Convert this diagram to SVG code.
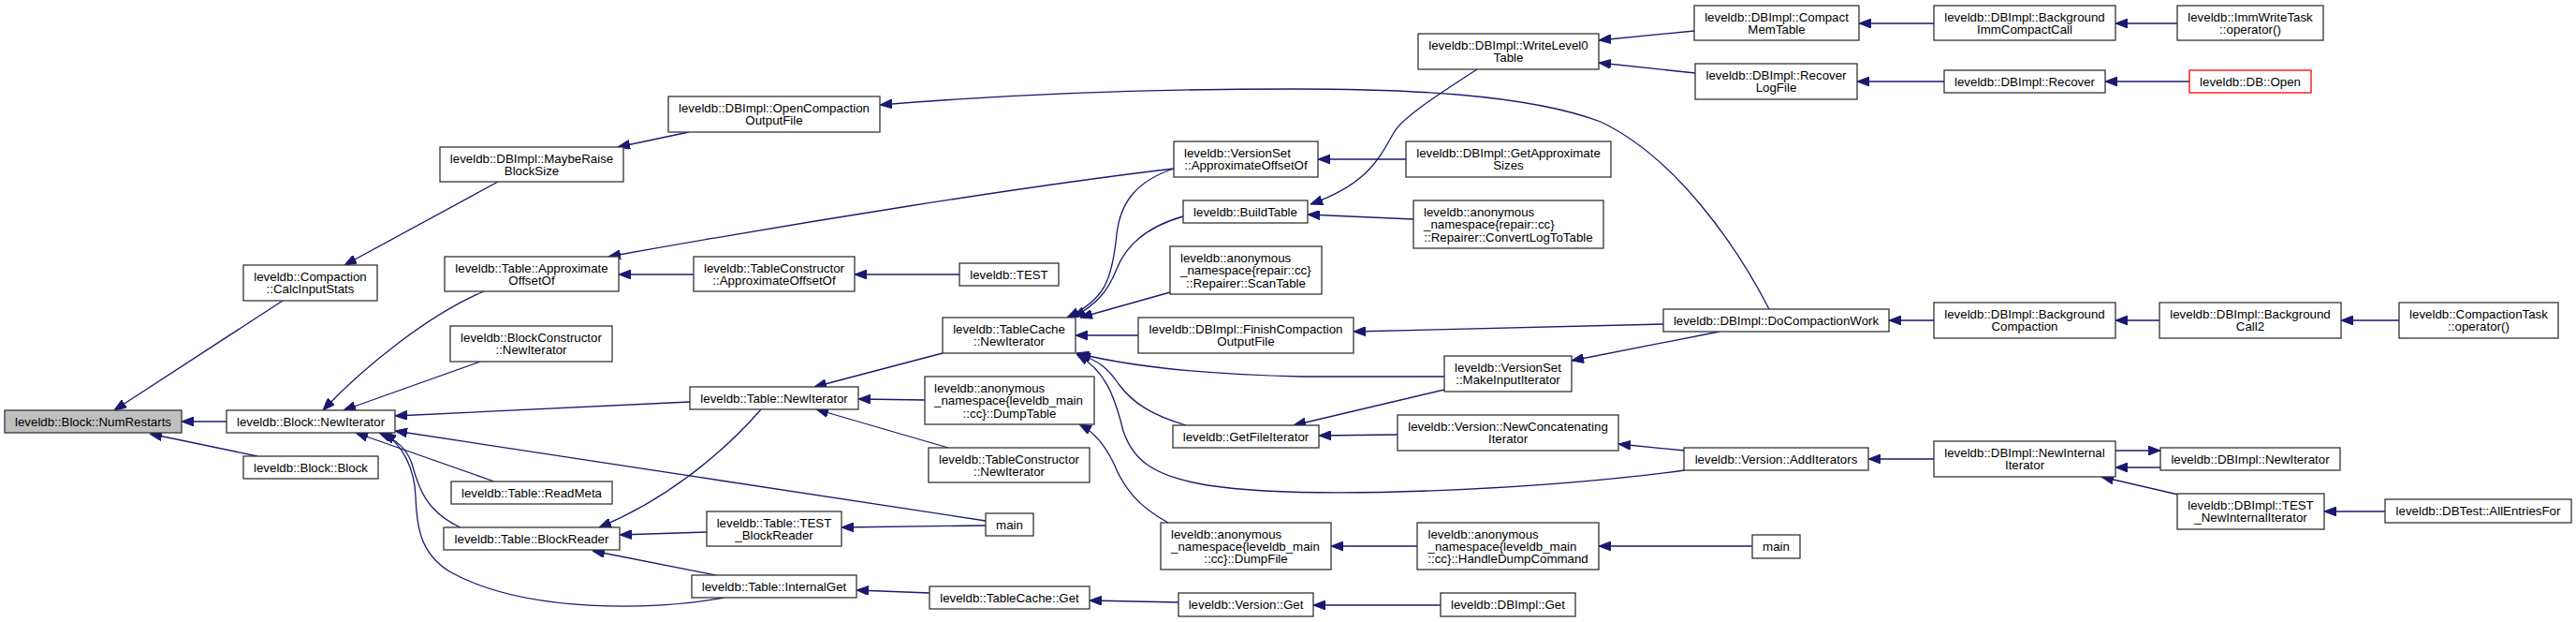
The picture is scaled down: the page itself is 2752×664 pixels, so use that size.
<svg xmlns="http://www.w3.org/2000/svg" width="2752" height="664" viewBox="0 0 2752 664">
<style>
.n rect{fill:#ffffff;stroke:#333333;stroke-width:1.3}
.n text{font-family:"Liberation Sans",Arial,Helvetica,sans-serif;font-size:13.3px;fill:#000000;text-anchor:middle}
.n text.l{text-anchor:start}
#n1 rect{fill:#bfbfbf}
#n45 rect{stroke:#ff0000}
#edges path{fill:none;stroke:#191970;stroke-width:1.3;marker-end:url(#ah)}
</style>
<defs>
<marker id="ah" markerWidth="13" markerHeight="10" refX="13" refY="5" orient="auto" markerUnits="userSpaceOnUse">
<path d="M0,0 L13,5 L0,10 Z" fill="#191970" stroke="#191970" stroke-width="1"/>
</marker>
</defs>
<rect x="0" y="0" width="2752" height="664" fill="#ffffff"/>
<g id="edges">
<path d="M302,321 L122,438"/>
<path d="M242,450 L194,450"/>
<path d="M275,487 L160,463"/>
<path d="M532,194 L368,283"/>
<path d="M736,141 L660,157"/>
<path d="M517,311 C460,335 390,390 345,438"/>
<path d="M513,386 L367,438"/>
<path d="M737,429 L422,444"/>
<path d="M1053,556 L422,460"/>
<path d="M528,514 L380,462"/>
<path d="M492,563 C452,545 446,515 440,495 C435,480 425,470 405,462"/>
<path d="M773,638 C700,652 560,655 480,610 C448,590 445,560 444,530 C443,500 430,475 410,462"/>
<path d="M1007,377 L870,413"/>
<path d="M988,427 L917,426"/>
<path d="M1013,478 L872,437"/>
<path d="M813,437 C780,475 720,530 640,563"/>
<path d="M755,568 L662,571"/>
<path d="M765,614 L633,588"/>
<path d="M1053,561 L899,563"/>
<path d="M993,633 L915,630"/>
<path d="M1259,643 L1164,641"/>
<path d="M1539,646 L1403,646"/>
<path d="M1248,558 C1215,540 1200,520 1190,495 C1180,475 1170,462 1153,453"/>
<path d="M1514,583 L1422,583"/>
<path d="M1872,583 L1708,583"/>
<path d="M1254,180 C1215,193 1197,215 1193,250 C1188,300 1180,320 1140,339"/>
<path d="M1264,231 C1225,242 1203,262 1193,287 C1183,313 1170,325 1147,339"/>
<path d="M1250,312 L1154,339"/>
<path d="M1216,358 L1149,358"/>
<path d="M1543,402 L1390,402 C1300,400 1210,392 1150,377"/>
<path d="M1267,454 C1230,443 1210,430 1195,410 C1185,395 1175,385 1152,378"/>
<path d="M1800,502 C1650,522 1400,535 1290,518 C1230,508 1210,490 1200,460 C1190,420 1180,395 1150,378"/>
<path d="M741,293 L661,293"/>
<path d="M1254,180 C1100,198 850,238 650,274"/>
<path d="M1025,293 L913,293"/>
<path d="M1890,330 C1855,262 1790,168 1710,130 C1630,100 1500,95 1380,95 C1200,95 1050,103 940,112"/>
<path d="M1578,74 C1530,105 1500,125 1490,140 C1475,165 1465,195 1400,218"/>
<path d="M1502,170 L1408,170"/>
<path d="M1510,234 L1397,229"/>
<path d="M1810,33 L1708,43"/>
<path d="M1811,78 L1708,67"/>
<path d="M2066,25 L1986,25"/>
<path d="M2077,87 L1984,87"/>
<path d="M2326,25 L2260,25"/>
<path d="M2339,87 L2249,87"/>
<path d="M1837,354 L1679,385"/>
<path d="M1777,346 L1446,354"/>
<path d="M2066,342 L2018,342"/>
<path d="M2307,342 L2260,342"/>
<path d="M2563,342 L2501,342"/>
<path d="M1543,416 L1382,454"/>
<path d="M1493,464 L1409,465"/>
<path d="M1800,481 L1729,474"/>
<path d="M2066,490 L1996,490"/>
<path d="M2260,481 L2308,481"/>
<path d="M2308,499 L2260,499"/>
<path d="M2327,528 L2245,509"/>
<path d="M2548,546 L2483,546"/>
</g>
<g id="n1" class="n"><rect x="5" y="438" width="189" height="24"/><text x="99.5" y="454.8">leveldb::Block::NumRestarts</text></g>
<g id="n2" class="n"><rect x="260" y="283" width="143" height="38"/><text x="331.5" y="300.15">leveldb::Compaction</text><text x="331.5" y="313.45">::CalcInputStats</text></g>
<g id="n3" class="n"><rect x="242" y="438" width="180" height="24"/><text x="332" y="454.8">leveldb::Block::NewIterator</text></g>
<g id="n4" class="n"><rect x="260" y="487" width="144" height="24"/><text x="332" y="503.8">leveldb::Block::Block</text></g>
<g id="n5" class="n"><rect x="470" y="157" width="196" height="37"/><text x="568" y="173.65">leveldb::DBImpl::MaybeRaise</text><text x="568" y="186.95">BlockSize</text></g>
<g id="n6" class="n"><rect x="714" y="103" width="226" height="38"/><text x="827" y="120.15">leveldb::DBImpl::OpenCompaction</text><text x="827" y="133.45">OutputFile</text></g>
<g id="n7" class="n"><rect x="475" y="274" width="186" height="37"/><text x="568" y="290.65">leveldb::Table::Approximate</text><text x="568" y="303.95">OffsetOf</text></g>
<g id="n8" class="n"><rect x="741" y="274" width="172" height="37"/><text x="827" y="290.65">leveldb::TableConstructor</text><text x="827" y="303.95">::ApproximateOffsetOf</text></g>
<g id="n9" class="n"><rect x="1025" y="281" width="106" height="24"/><text x="1078" y="297.8">leveldb::TEST</text></g>
<g id="n10" class="n"><rect x="481" y="348" width="173" height="38"/><text x="567.5" y="365.15">leveldb::BlockConstructor</text><text x="567.5" y="378.45">::NewIterator</text></g>
<g id="n11" class="n"><rect x="737" y="413" width="180" height="24"/><text x="827" y="429.8">leveldb::Table::NewIterator</text></g>
<g id="n12" class="n"><rect x="482" y="514" width="172" height="24"/><text x="568" y="530.8">leveldb::Table::ReadMeta</text></g>
<g id="n13" class="n"><rect x="474" y="563" width="188" height="24"/><text x="568" y="579.8">leveldb::Table::BlockReader</text></g>
<g id="n14" class="n"><rect x="755" y="546" width="144" height="37"/><text x="827" y="562.65">leveldb::Table::TEST</text><text x="827" y="575.95">_BlockReader</text></g>
<g id="n15" class="n"><rect x="739" y="614" width="176" height="24"/><text x="827" y="630.8">leveldb::Table::InternalGet</text></g>
<g id="n16" class="n"><rect x="1053" y="548" width="51" height="24"/><text x="1078.5" y="564.8">main</text></g>
<g id="n17" class="n"><rect x="1007" y="339" width="142" height="38"/><text x="1078" y="356.15">leveldb::TableCache</text><text x="1078" y="369.45">::NewIterator</text></g>
<g id="n18" class="n"><rect x="988" y="402" width="181" height="51"/><text class="l" x="998" y="419">leveldb::anonymous</text><text class="l" x="998" y="432.3">_namespace{leveldb_main</text><text x="1078.5" y="445.6">::cc}::DumpTable</text></g>
<g id="n19" class="n"><rect x="992" y="478" width="172" height="37"/><text x="1078" y="494.65">leveldb::TableConstructor</text><text x="1078" y="507.95">::NewIterator</text></g>
<g id="n20" class="n"><rect x="993" y="626" width="171" height="24"/><text x="1078.5" y="642.8">leveldb::TableCache::Get</text></g>
<g id="n21" class="n"><rect x="1216" y="339" width="230" height="38"/><text x="1331" y="356.15">leveldb::DBImpl::FinishCompaction</text><text x="1331" y="369.45">OutputFile</text></g>
<g id="n22" class="n"><rect x="1253" y="454" width="156" height="24"/><text x="1331" y="470.8">leveldb::GetFileIterator</text></g>
<g id="n23" class="n"><rect x="1240" y="558" width="182" height="50"/><text class="l" x="1251" y="574.5">leveldb::anonymous</text><text class="l" x="1251" y="587.8">_namespace{leveldb_main</text><text x="1331" y="601.1">::cc}::DumpFile</text></g>
<g id="n24" class="n"><rect x="1259" y="633" width="144" height="25"/><text x="1331" y="650.3">leveldb::Version::Get</text></g>
<g id="n25" class="n"><rect x="1254" y="151" width="154" height="38"/><text class="l" x="1265" y="168.15">leveldb::VersionSet</text><text x="1331" y="181.45">::ApproximateOffsetOf</text></g>
<g id="n26" class="n"><rect x="1264" y="214" width="133" height="24"/><text x="1330.5" y="230.8">leveldb::BuildTable</text></g>
<g id="n27" class="n"><rect x="1250" y="263" width="162" height="51"/><text class="l" x="1261" y="280">leveldb::anonymous</text><text class="l" x="1261" y="293.3">_namespace{repair::cc}</text><text x="1331" y="306.6">::Repairer::ScanTable</text></g>
<g id="n28" class="n"><rect x="1515" y="36" width="193" height="38"/><text x="1611.5" y="53.15">leveldb::DBImpl::WriteLevel0</text><text x="1611.5" y="66.45">Table</text></g>
<g id="n29" class="n"><rect x="1502" y="151" width="219" height="38"/><text x="1611.5" y="168.15">leveldb::DBImpl::GetApproximate</text><text x="1611.5" y="181.45">Sizes</text></g>
<g id="n30" class="n"><rect x="1510" y="214" width="203" height="51"/><text class="l" x="1521" y="231">leveldb::anonymous</text><text class="l" x="1521" y="244.3">_namespace{repair::cc}</text><text x="1611.5" y="257.6">::Repairer::ConvertLogToTable</text></g>
<g id="n31" class="n"><rect x="1543" y="380" width="136" height="38"/><text x="1611" y="397.15">leveldb::VersionSet</text><text x="1611" y="410.45">::MakeInputIterator</text></g>
<g id="n32" class="n"><rect x="1493" y="443" width="236" height="38"/><text x="1611" y="460.15">leveldb::Version::NewConcatenating</text><text x="1611" y="473.45">Iterator</text></g>
<g id="n33" class="n"><rect x="1514" y="558" width="194" height="50"/><text class="l" x="1525.5" y="574.5">leveldb::anonymous</text><text class="l" x="1525.5" y="587.8">_namespace{leveldb_main</text><text x="1611" y="601.1">::cc}::HandleDumpCommand</text></g>
<g id="n34" class="n"><rect x="1539" y="633" width="144" height="25"/><text x="1611" y="650.3">leveldb::DBImpl::Get</text></g>
<g id="n35" class="n"><rect x="1777" y="330" width="241" height="24"/><text x="1897.5" y="346.8">leveldb::DBImpl::DoCompactionWork</text></g>
<g id="n36" class="n"><rect x="1799" y="478" width="197" height="24"/><text x="1897.5" y="494.8">leveldb::Version::AddIterators</text></g>
<g id="n37" class="n"><rect x="1872" y="571" width="51" height="25"/><text x="1897.5" y="588.3">main</text></g>
<g id="n38" class="n"><rect x="1810" y="6" width="176" height="37"/><text x="1898" y="22.65">leveldb::DBImpl::Compact</text><text x="1898" y="35.95">MemTable</text></g>
<g id="n39" class="n"><rect x="1811" y="68" width="173" height="38"/><text x="1897.5" y="85.15">leveldb::DBImpl::Recover</text><text x="1897.5" y="98.45">LogFile</text></g>
<g id="n40" class="n"><rect x="2066" y="6" width="194" height="37"/><text x="2163" y="22.65">leveldb::DBImpl::Background</text><text x="2163" y="35.95">ImmCompactCall</text></g>
<g id="n41" class="n"><rect x="2077" y="75" width="172" height="24"/><text x="2163" y="91.8">leveldb::DBImpl::Recover</text></g>
<g id="n42" class="n"><rect x="2066" y="323" width="194" height="38"/><text x="2163" y="340.15">leveldb::DBImpl::Background</text><text x="2163" y="353.45">Compaction</text></g>
<g id="n43" class="n"><rect x="2066" y="471" width="194" height="38"/><text x="2163" y="488.15">leveldb::DBImpl::NewInternal</text><text x="2163" y="501.45">Iterator</text></g>
<g id="n44" class="n"><rect x="2326" y="6" width="156" height="37"/><text x="2404" y="22.65">leveldb::ImmWriteTask</text><text x="2404" y="35.95">::operator()</text></g>
<g id="n45" class="n"><rect x="2339" y="75" width="130" height="24"/><text x="2404" y="91.8">leveldb::DB::Open</text></g>
<g id="n46" class="n"><rect x="2307" y="323" width="194" height="38"/><text x="2404" y="340.15">leveldb::DBImpl::Background</text><text x="2404" y="353.45">Call2</text></g>
<g id="n47" class="n"><rect x="2563" y="323" width="170" height="38"/><text x="2648" y="340.15">leveldb::CompactionTask</text><text x="2648" y="353.45">::operator()</text></g>
<g id="n48" class="n"><rect x="2308" y="478" width="192" height="24"/><text x="2404" y="494.8">leveldb::DBImpl::NewIterator</text></g>
<g id="n49" class="n"><rect x="2326" y="527" width="157" height="38"/><text x="2404.5" y="544.15">leveldb::DBImpl::TEST</text><text x="2404.5" y="557.45">_NewInternalIterator</text></g>
<g id="n50" class="n"><rect x="2548" y="533" width="199" height="25"/><text x="2647.5" y="550.3">leveldb::DBTest::AllEntriesFor</text></g>
</svg>
